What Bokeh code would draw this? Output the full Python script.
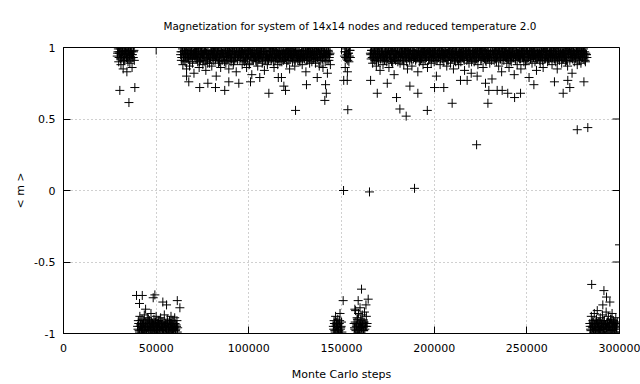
import math
from bokeh.plotting import figure
from bokeh.models import FixedTicker, BasicTickFormatter, Range1d, ColumnDataSource
from bokeh.embed import file_html
from bokeh.resources import INLINE

TITLE = "Magnetization for system of 14x14 nodes and reduced temperature 2.0"
X_LABEL = "Monte Carlo steps"
Y_LABEL = "< m >"
X_TICKS = [0, 50000, 100000, 150000, 200000, 250000, 300000]
Y_TICKS = [-1, -0.5, 0, 0.5, 1]
Y_TICK_LABELS = ["-1", "-0.5", "0", "0.5", "1"]

STEP = 400   # sampling interval of the recorded magnetization
HALF = 200   # second interleaved record

# segment A: ordered phase, m ~ +1
A_START = 29000
A_Y = [.94,.97,.90,.96,.99,.88,.93,.97,.85,.95,.91,.98,.96,.83,.92,.97,.94,.89,.99,.95,.86,.93,.97,.91]
A2_Y = [.96,.99,.93,.97,.92,.95,.98,.94,.91,.97,.95,.99,.93,.96,.90,.98,.94,.96,.92,.97,.95,.93,.98]

# segment B: m ~ -1
B_START = 40000
B_Y = [-.95,-.91,-.98,-.88,-.94,-.97,-.90,-.99,-.93,-.87,-.96,-.92,-1.0,-.89,-.95,-.97,-.91,-.94,-.86,-.98,
       -.93,-.96,-.90,-.99,-.92,-.88,-.95,-.97,-.93,-.91,-.98,-.89,-.94,-.96,-.92,-1.0,-.87,-.95,-.93,-.97,
       -.90,-.94,-.99,-.91,-.96,-.88,-.93,-.97,-.92,-.95,-.89,-.98,-.94,-.91,-.96]
B2_Y = [-.97,-.93,-.99,-.95,-.91,-.96,-.94,-.98,-.92,-.97,-.95,-.99,-.93,-.96,-.90,-.98,-.94,-.97,-.92,-.95,
        -.98,-.94,-.96,-.92,-.99,-.95,-.93,-.97,-.91,-.96,-.94,-.98,-.92,-.97,-.95,-.99,-.93,-.96,-.94,-.98,
        -.92,-.96,-.95,-.99,-.93,-.97,-.94,-.91,-.98,-.96,-.93,-.97,-.95,-.99]

# segment C: m ~ +1
C_START = 63200
C_Y = [.95,.91,.97,.88,.93,.98,.90,.96,.85,.94,.99,.92,.87,.96,.93,.97,.89,.95,.82,.94,
       .97,.92,.96,.90,.99,.86,.94,.91,.97,.93,.88,.95,.98,.90,.84,.96,.92,.97,.94,.89,
       .93,.98,.87,.95,.91,.96,.99,.92,.80,.94,.97,.89,.95,.93,.86,.98,.91,.96,.94,.90,
       .96,.89,.94,.98,.92,.85,.97,.93,.90,.95,.99,.88,.96,.91,.94,.83,.97,.92,.95,.98,
       .91,.95,.97,.88,.93,.96,.90,.98,.94,.86,.92,.97,.95,.89,.99,.93,.81,.96,.91,.94,
       .98,.93,.90,.96,.87,.94,.97,.92,.95,.99,.89,.93,.96,.84,.91,.97,.94,.88,.95,.92,
       .94,.97,.91,.95,.99,.90,.86,.96,.93,.98,.92,.88,.95,.97,.90,.94,.79,.96,.93,.91,
       .92,.96,.98,.89,.94,.91,.97,.85,.95,.93,.99,.90,.96,.92,.87,.97,.94,.98,.91,.95,
       .97,.90,.93,.96,.88,.98,.94,.92,.95,.83,.91,.97,.93,.99,.89,.96,.94,.90,.97,.92,
       .93,.95,.89,.97,.92,.96,.99,.87,.94,.91,.98,.93,.86,.95,.97,.90,.94,.96,.82,.98,
       .91,.95,.88]
C2_Y = [.97,.93,.99,.95,.91,.96,.94,.98,.92,.96,.93,.97,.90,.95,.98,.94,.92,.96,.99,.93,
        .95,.98,.92,.96,.94,.90,.97,.93,.99,.95,.91,.96,.94,.98,.92,.97,.89,.95,.93,.96,
        .92,.96,.98,.93,.97,.95,.91,.99,.94,.96,.92,.98,.90,.95,.97,.93,.96,.94,.99,.91,
        .98,.94,.91,.97,.95,.99,.93,.96,.92,.98,.94,.90,.97,.95,.93,.99,.91,.96,.94,.97,
        .93,.97,.95,.99,.91,.94,.98,.92,.96,.93,.97,.95,.88,.98,.94,.96,.92,.99,.95,.93,
        .96,.91,.98,.94,.97,.92,.95,.99,.93,.96,.90,.97,.94,.98,.92,.95,.97,.93,.91,.99,
        .94,.98,.92,.96,.93,.99,.95,.91,.97,.94,.96,.92,.98,.93,.95,.97,.90,.94,.99,.96,
        .95,.93,.97,.91,.98,.94,.96,.92,.99,.95,.93,.97,.94,.96,.91,.98,.95,.93,.97,.92,
        .91,.96,.94,.98,.92,.97,.95,.93,.99,.94,.96,.91,.98,.95,.92,.97,.94,.99,.93,.96,
        .98,.92,.95,.97,.93,.99,.91,.96,.94,.98,.95,.92,.97,.93,.96,.94,.99,.91,.95,.97,
        .93,.96]

# segment D: m ~ -1
D_START = 145600
D_Y = [-.95,-.91,-.98,-.88,-.94,-.97,-.90,-.99,-.93,-.86,-.96,-.92]
D_2_Y = [-.97,-.93,-.99,-.95,-.92,-.96,-.94,-.98,-.91,-.97,-.95,-.99]

# segment E: m ~ +1
E_START = 151600
E_Y = [.94,.86,.97,.92,.83,.96,.90,.98,.93]
E2_Y = [.97,.93,.99,.95,.91,.96,.94,.98]

# segment D2: m ~ -1
D2_START = 156800
D2_Y = [-.93,-.97,-.84,-.95,-.89,-.99,-.86,-.94,-.82,-.90,-.96,-.87,-.92,-.98,-.85,-.93,-.80,-.95]
D2_2_Y = [-.96,-.92,-.98,-.94,-.90,-.97,-.93,-.99,-.95,-.91,-.96,-.94,-.98,-.92,-.97,-.95,-.88,-.93]

# segment F: m ~ +1
F_START = 165600
F_Y = [.96,.92,.98,.89,.94,.97,.91,.95,.87,.93,.99,.90,.96,.84,.92,.97,.94,.88,.95,.91,
       .93,.97,.90,.95,.98,.86,.94,.92,.96,.99,.89,.93,.81,.97,.91,.95,.98,.90,.94,.96,
       .89,.94,.97,.92,.95,.88,.99,.93,.96,.90,.85,.97,.94,.91,.98,.93,.87,.95,.92,.96,
       .98,.91,.95,.93,.83,.97,.90,.94,.96,.92,.99,.88,.95,.97,.91,.93,.96,.86,.94,.98,
       .92,.96,.89,.95,.97,.93,.90,.98,.94,.80,.91,.96,.93,.99,.88,.95,.97,.92,.94,.90,
       .95,.98,.93,.87,.96,.91,.94,.97,.89,.95,.92,.99,.85,.93,.96,.90,.97,.94,.91,.88,
       .97,.93,.90,.96,.94,.99,.92,.84,.95,.97,.91,.93,.98,.89,.96,.94,.82,.92,.97,.95,
       .90,.94,.98,.92,.96,.88,.93,.97,.95,.91,.99,.94,.86,.96,.92,.98,.90,.95,.93,.97,
       .94,.89,.96,.92,.78,.97,.95,.91,.93,.98,.90,.96,.94,.87,.99,.92,.95,.83,.97,.93,
       .91,.96,.93,.98,.89,.95,.92,.86,.97,.94,.90,.96,.99,.93,.81,.95,.91,.97,.88,.94,
       .96,.92,.95,.85,.97,.93,.99,.90,.94,.88,.96,.91,.98,.93,.79,.95,.92,.97,.89,.94,
       .93,.97,.90,.95,.84,.92,.98,.94,.96,.89,.93,.97,.91,.86,.95,.99,.92,.94,.97,.90,
       .95,.91,.98,.93,.96,.88,.94,.97,.92,.99,.90,.95,.85,.93,.96,.91,.97,.94,.89,.96,
       .92,.98,.94,.90,.97,.93,.87,.95,.99,.91,.96,.93,.82,.94,.97,.90,.95,.92,.98,.88,
       .94,.97,.91,.95,.89,.98,.93,.96,.92,.97,.90,.95,.93]
F2_Y = [.95,.98,.93,.96,.92,.99,.94,.97,.91,.96,.93,.98,.95,.92,.97,.94,.99,.93,.96,.91,
        .97,.94,.96,.92,.99,.95,.93,.97,.90,.98,.94,.96,.92,.97,.95,.93,.99,.94,.91,.96,
        .93,.97,.95,.99,.91,.96,.94,.98,.92,.95,.97,.93,.96,.99,.94,.92,.98,.95,.97,.93,
        .96,.92,.98,.94,.97,.93,.95,.91,.99,.96,.94,.97,.92,.98,.95,.93,.96,.99,.91,.97,
        .94,.99,.92,.96,.93,.97,.95,.98,.91,.94,.96,.93,.99,.95,.92,.97,.94,.98,.96,.93,
        .98,.93,.96,.91,.95,.99,.94,.97,.92,.96,.93,.98,.95,.91,.97,.94,.99,.92,.96,.95,
        .92,.96,.94,.98,.93,.97,.91,.95,.99,.94,.96,.92,.97,.93,.98,.95,.90,.96,.94,.99,
        .96,.91,.97,.95,.99,.93,.96,.94,.98,.92,.95,.97,.93,.99,.94,.91,.96,.98,.92,.95,
        .93,.97,.95,.91,.98,.94,.96,.99,.92,.97,.93,.95,.98,.94,.96,.92,.97,.91,.99,.94,
        .97,.94,.99,.93,.96,.92,.98,.95,.91,.97,.94,.96,.93,.99,.95,.92,.98,.94,.96,.93,
        .94,.98,.92,.96,.95,.99,.93,.97,.94,.91,.98,.96,.93,.95,.97,.92,.99,.94,.96,.98,
        .99,.95,.93,.97,.92,.96,.94,.98,.91,.95,.97,.93,.96,.99,.92,.94,.98,.95,.97,.93,
        .92,.96,.98,.94,.97,.93,.95,.99,.92,.96,.94,.98,.91,.97,.95,.93,.96,.94,.99,.92,
        .96,.93,.97,.95,.91,.98,.94,.96,.99,.93,.95,.97,.92,.98,.94,.96,.93,.97,.95,.99,
        .95,.92,.98,.94,.96,.93,.97,.99,.94,.91,.96,.95]

# segment G: m ~ -1
G_START = 284000
G_Y = [-.93,-.97,-.88,-.95,-.91,-.99,-.86,-.94,-.97,-.90,-.84,-.96,-.92,-.98,-.89,-.95,-.93,-.87,-.97,-.91,
       -.99,-.94,-.85,-.96,-.92,-.88,-.95,-.98,-.90,-.93,-.86,-.97,-.91,-.94,-.99,-.89,-.96,-.92]
G2_Y = [-.95,-.98,-.93,-.96,-.92,-.99,-.94,-.97,-.91,-.96,-.93,-.98,-.95,-.92,-.97,-.94,-.99,-.93,-.96,-.91,
        -.97,-.94,-.96,-.92,-.99,-.95,-.93,-.97,-.90,-.98,-.94,-.96,-.92,-.97,-.95,-.93,-.99]

# isolated fluctuations
EXTRA_X = [30400, 35300, 38500,
           39400, 42500, 49300, 41000, 44300, 48400, 53600, 55600, 61400, 62800,
           66400, 67600, 73500, 77900, 82000, 87000, 89200, 94600, 100900, 105900,
           110800, 115900, 118900, 119800, 125200, 131100, 136900, 141400, 141800, 141000,
           151100, 153400, 151200, 153100, 150900, 160800, 159000, 164400, 157200, 165100,
           165700, 169300, 174700, 179700, 181500, 184900, 186900, 191200, 196300, 200200,
           205200, 209700, 214200, 217800, 223200, 227700, 229500, 229000, 234000, 236700,
           239700, 243400, 246600, 253800, 264900, 269600, 272100, 273200, 280800, 277200,
           282900, 222900, 189400,
           285000, 291600, 293000, 294800, 291000, 300000]
EXTRA_Y = [.70, .615, .72,
           -.734, -.734, -.73, -.79, -.83, -.75, -.78, -.80, -.77, -.82,
           .80, .76, .72, .75, .72, .70, .76, .75, .76, .79,
           .68, .79, .73, .70, .56, .74, .79, .74, .68, .63,
           0.0, .565, .77, .77, -.77, -.69, -.77, -.76, -.83, -.01,
           .77, .68, .75, .65, .57, .52, .73, .68, .56, .72,
           .72, .61, .77, .77, .80, .75, .70, .61, .70, .70,
           .68, .65, .68, .74, .76, .68, .77, .72, .76, .425,
           .44, .32, .015,
           -.657, -.70, -.745, -.78, -.80, -.38]

segments = [(A_START, A_Y), (A_START + HALF, A2_Y),
            (B_START, B_Y), (B_START + HALF, B2_Y),
            (C_START, C_Y), (C_START + HALF, C2_Y),
            (D_START, D_Y), (D_START + HALF, D_2_Y),
            (E_START, E_Y), (E_START + HALF, E2_Y),
            (D2_START, D2_Y), (D2_START + HALF, D2_2_Y),
            (F_START, F_Y), (F_START + HALF, F2_Y),
            (G_START, G_Y), (G_START + HALF, G2_Y)]
xs, ys = [], []
for start, vals in segments:
    xs += [start + STEP * i for i in range(len(vals))]
    ys += list(vals)
xs += EXTRA_X
ys += EXTRA_Y
src = ColumnDataSource(data=dict(x=xs, y=ys))

FONT = "DejaVu Sans"

p = figure(width=640, height=384, x_range=Range1d(0, 300000), y_range=Range1d(-1, 1),
           output_backend="svg", toolbar_location=None, title=TITLE,
           min_border_left=63, min_border_right=21, min_border_top=47, min_border_bottom=51)
p.background_fill_color = "white"
p.border_fill_color = "white"
p.outline_line_color = "black"
p.outline_line_width = 1

p.title.align = "left"
p.title.offset = 100
p.title.text_font = FONT
p.title.text_font_size = "10.4px"
p.title.text_font_style = "normal"
p.title.text_color = "black"
p.title.standoff = 31

def style_axis(ax, ticks):
    ax.ticker = FixedTicker(ticks=ticks)
    ax.major_tick_in = 7
    ax.major_tick_out = 0
    ax.minor_tick_in = 0
    ax.minor_tick_out = 0
    ax.axis_line_color = "black"
    ax.major_tick_line_color = "black"
    ax.major_label_text_font = FONT
    ax.major_label_text_font_size = "11px"
    ax.major_label_text_color = "black"
    ax.axis_label_text_font = FONT
    ax.axis_label_text_font_size = "11px"
    ax.axis_label_text_font_style = "normal"
    ax.axis_label_text_color = "black"

xa = p.xaxis[0]
style_axis(xa, X_TICKS)
xa.formatter = BasicTickFormatter(use_scientific=False)
xa.axis_label = X_LABEL
xa.major_label_standoff = 10
xa.axis_label_standoff = 13

ya = p.yaxis[0]
style_axis(ya, Y_TICKS)
ya.major_label_overrides = {t: l for t, l in zip(Y_TICKS, Y_TICK_LABELS)}
ya.axis_label = Y_LABEL
ya.major_label_standoff = 8
ya.axis_label_standoff = 4

for g, ticks in ((p.xgrid[0], X_TICKS), (p.ygrid[0], Y_TICKS)):
    g.ticker = FixedTicker(ticks=ticks)
    g.grid_line_color = "#a0a0a0"
    g.grid_line_dash = "1 3"
    g.grid_line_width = 1

# mirrored ticks on the top and right frame edges (half of each dash is clipped by the frame)
p.scatter(x=X_TICKS, y=[1] * len(X_TICKS), marker="dash", size=14, angle=math.pi / 2,
          line_color="black", line_width=1)
p.scatter(x=[300000] * len(Y_TICKS), y=Y_TICKS, marker="dash", size=14,
          line_color="black", line_width=1)

p.scatter(x="x", y="y", source=src, marker="cross", size=9, line_color="black", line_width=1)

open("out.html", "w").write(file_html(p, INLINE))
